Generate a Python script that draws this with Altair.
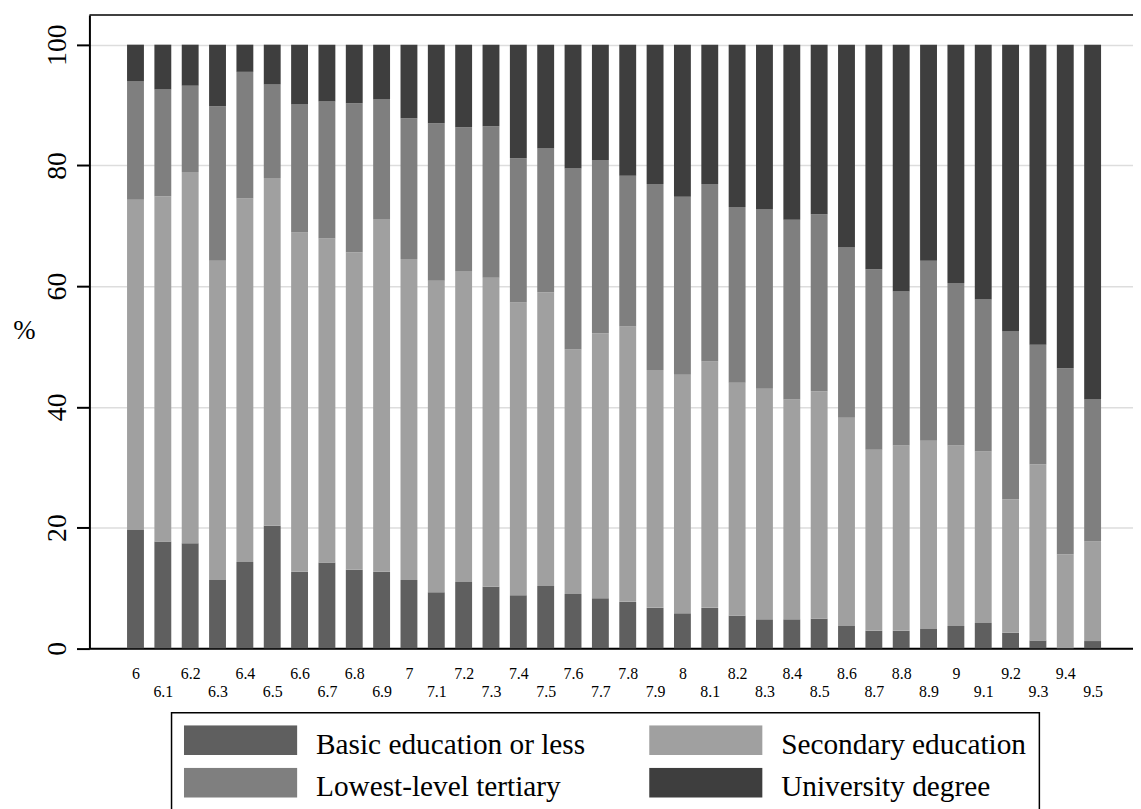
import altair as alt
import pandas as pd

# Survey wave / score groups on the x axis
waves = [6.0, 6.1, 6.2, 6.3, 6.4, 6.5, 6.6, 6.7, 6.8, 6.9,
         7.0, 7.1, 7.2, 7.3, 7.4, 7.5, 7.6, 7.7, 7.8, 7.9,
         8.0, 8.1, 8.2, 8.3, 8.4, 8.5, 8.6, 8.7, 8.8, 8.9,
         9.0, 9.1, 9.2, 9.3, 9.4, 9.5]

# Shares (%) per education level
basic = [19.6, 17.7, 17.4, 11.3, 14.3, 20.3, 12.7, 14.2, 13.0, 12.7,
         11.3, 9.3, 11.0, 10.2, 8.8, 10.3, 9.0, 8.3, 7.7, 6.7,
         5.8, 6.7, 5.4, 4.8, 4.8, 4.9, 3.7, 2.9, 2.9, 3.2,
         3.7, 4.2, 2.6, 1.3, 0.0, 1.2]
secondary = [54.7, 57.2, 61.5, 52.9, 60.2, 57.6, 56.2, 53.7, 52.6, 58.4,
             53.2, 51.6, 51.5, 51.2, 48.5, 48.7, 40.5, 43.9, 45.6, 39.4,
             39.5, 40.8, 38.6, 38.2, 36.4, 37.7, 34.5, 30.0, 30.7, 31.2,
             29.9, 28.4, 22.1, 29.2, 15.6, 16.5]
tertiary = [19.6, 17.7, 14.3, 25.6, 21.0, 15.5, 21.2, 22.7, 24.7, 19.8,
            23.3, 26.1, 23.8, 25.1, 23.9, 23.8, 30.0, 28.7, 25.0, 30.8,
            29.5, 29.4, 29.1, 29.7, 29.8, 29.3, 28.2, 29.9, 25.5, 29.8,
            26.9, 25.2, 27.8, 19.8, 30.8, 23.5]
university = [6.1, 7.4, 6.8, 10.2, 4.5, 6.6, 9.9, 9.4, 9.7, 9.1,
              12.2, 13.0, 13.7, 13.5, 18.8, 17.2, 20.5, 19.1, 21.7, 23.1,
              25.2, 23.1, 26.9, 27.3, 29.0, 28.1, 33.6, 37.2, 40.9, 35.8,
              39.5, 42.2, 47.5, 49.7, 53.6, 58.8]

categories = ["Basic education or less", "Secondary education",
              "Lowest-level tertiary", "University degree"]
colors = ["#5f5f5f", "#a0a0a0", "#7f7f7f", "#3e3e3e"]
y_ticks = [0, 20, 40, 60, 80, 100]

series = [basic, secondary, tertiary, university]
rows = []
for i, w in enumerate(waves):
    for k, cat in enumerate(categories):
        rows.append({"wave": w, "category": cat, "share": series[k][i], "order": k})
df = pd.DataFrame(rows)

FONT = "Liberation Serif"
Y_MAX = 104.9
x_scale = alt.Scale(domain=[5.8497, 9.6295], nice=False, zero=False)
y_scale = alt.Scale(domain=[0, Y_MAX], nice=False, zero=True)

label_expr = ("round(datum.value*10) % 2 == 1 ? ['', '' + round(datum.value*10)/10]"
              " : '' + round(datum.value*10)/10")

bars = alt.Chart(df).mark_bar(size=17).encode(
    x=alt.X("wave:Q", scale=x_scale,
            axis=alt.Axis(values=waves, labelExpr=label_expr, ticks=False, tickSize=0,
                          grid=False, domain=True, domainColor="black", domainWidth=2,
                          labelFont=FONT, labelFontSize=16, labelPadding=17,
                          labelLineHeight=19, labelOverlap=False, labelFlush=False,
                          labelColor="black", labelAlign="center", labelBaseline="top",
                          title=None)),
    y=alt.Y("share:Q", stack="zero", scale=y_scale,
            axis=alt.Axis(values=y_ticks, grid=True, gridColor="#dddddd", gridWidth=1.5,
                          domain=True, domainColor="black", domainWidth=2,
                          ticks=True, tickColor="black", tickWidth=2, tickSize=13,
                          labelAngle=270, labelAlign="center", labelBaseline="alphabetic",
                          labelPadding=11, labelFont=FONT, labelFontSize=28,
                          labelColor="black",
                          title="%", titleAngle=0, titleX=-66, titleY=318,
                          titleAlign="center", titleBaseline="middle", titleFont=FONT,
                          titleFontSize=27, titleFontWeight="normal", titleColor="black")),
    color=alt.Color("category:N", scale=alt.Scale(domain=categories, range=colors),
                    legend=alt.Legend(title=None, orient="none", legendX=82.7, legendY=702.7,
                                      columns=2, direction="horizontal",
                                      symbolType="M-1,-0.351L1,-0.351L1,0.175L-1,0.175Z",
                                      symbolSize=12996, symbolStrokeWidth=0, symbolOpacity=1,
                                      clipHeight=40, labelFont=FONT, labelFontSize=29.5,
                                      labelColor="black", labelOffset=19, labelLimit=500,
                                      columnPadding=63.5, rowPadding=2.7, gridAlign="all",
                                      padding=12.5, strokeColor="black")),
    order=alt.Order("order:Q", sort="ascending"),
)

top_line = alt.Chart(pd.DataFrame({"t": [0]})).mark_rule(color="black", strokeWidth=1.5).encode(
    y=alt.datum(Y_MAX)
)

chart = alt.layer(bars, top_line).properties(
    width=1051, height=637.7,
    autosize=alt.AutoSizeParams(type="none"),
    padding={"left": 82, "top": 4.3, "right": 0, "bottom": 159},
).configure_view(stroke=None).configure_legend(strokeWidth=1.5)

chart.save("out.html", embed_options={"renderer": "svg", "actions": False})
